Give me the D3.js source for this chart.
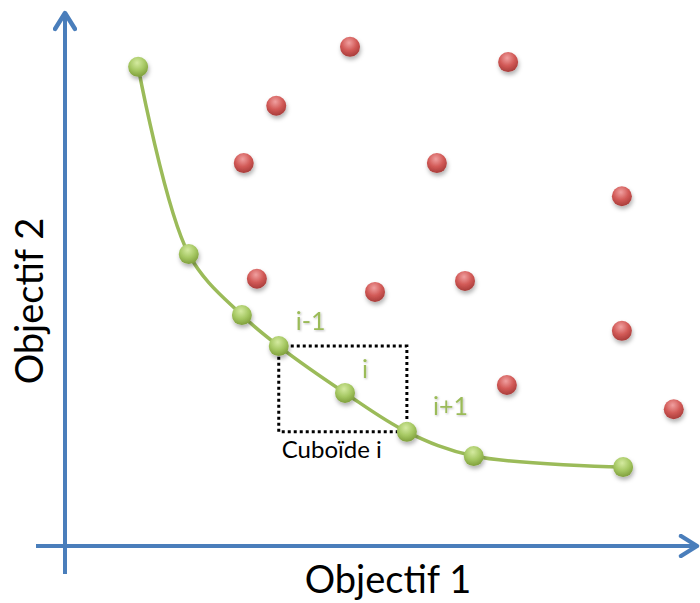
<!DOCTYPE html>
<html>
<head>
<meta charset="utf-8">
<script src="https://cdn.jsdelivr.net/npm/d3@7"></script>
<style>
  body { margin: 0; background: #fff; }
  text { font-family: Lato, "Open Sans", sans-serif; }
</style>
</head>
<body>
<div id="chart"></div>
<script>
// front points (Objectif 1, Objectif 2), arbitrary units 0..100
const frontX = [11.7, 19.8, 28.3, 34.2, 44.8, 54.7, 65.4, 89.3];
const frontY = [91.1, 55.5, 43.9, 38.0, 29.1, 21.7, 17.1, 15.0];
// dominated points
const otherX = [45.6, 70.9, 33.8, 28.6, 59.5, 89.1, 30.7, 49.6, 64.0, 89.1, 70.7, 97.4];
const otherY = [94.9, 92.0, 83.7, 72.8, 72.8, 66.5, 50.8, 48.3, 50.4, 40.9, 30.6, 26.0];
const pointLabels = ["i-1", "i", "i+1"];
const cuboidLabel = "Cuboïde i";
const xTitle = "Objectif 1";
const yTitle = "Objectif 2";

const width = 700, height = 603;
const axisColor = "#4a7ebb";
const green = "#9bbb59";

const svg = d3.select("#chart").append("svg")
    .attr("width", width)
    .attr("height", height);

const x = d3.scaleLinear().domain([0, 100]).range([65, 690]);
const y = d3.scaleLinear().domain([0, 100]).range([546, 20]);

const defs = svg.append("defs");

function ballGradient(id, light, mid, dark) {
    const g = defs.append("radialGradient")
        .attr("id", id)
        .attr("cx", "45%").attr("cy", "30%").attr("r", "70%");
    g.append("stop").attr("offset", "0%").attr("stop-color", light);
    g.append("stop").attr("offset", "55%").attr("stop-color", mid);
    g.append("stop").attr("offset", "100%").attr("stop-color", dark);
}
ballGradient("gGreen", "#d4eaa0", "#a6c863", "#7f9f3c");
ballGradient("gRed", "#f0a0a0", "#d25a57", "#a83c3a");

const shadow = defs.append("filter").attr("id", "shadow")
    .attr("x", "-50%").attr("y", "-50%").attr("width", "200%").attr("height", "200%");
shadow.append("feDropShadow")
    .attr("dx", 1).attr("dy", 3).attr("stdDeviation", 2)
    .attr("flood-color", "#000").attr("flood-opacity", 0.3);

const txtShadow = defs.append("filter").attr("id", "tshadow")
    .attr("x", "-20%").attr("y", "-20%").attr("width", "140%").attr("height", "140%");
txtShadow.append("feDropShadow")
    .attr("dx", 1).attr("dy", 1).attr("stdDeviation", 1)
    .attr("flood-color", "#000").attr("flood-opacity", 0.25);

// open arrowhead
defs.append("marker")
    .attr("id", "arrow")
    .attr("viewBox", "0 0 12 12")
    .attr("refX", 10).attr("refY", 6)
    .attr("markerWidth", 24).attr("markerHeight", 24)
    .attr("markerUnits", "userSpaceOnUse")
    .attr("orient", "auto")
  .append("path")
    .attr("d", "M2,1 L10,6 L2,11")
    .attr("fill", "none")
    .attr("stroke", axisColor)
    .attr("stroke-width", 2.2)
    .attr("stroke-linecap", "round")
    .attr("stroke-linejoin", "round");

// axes
svg.append("line")
    .attr("x1", 65).attr("y1", 574)
    .attr("x2", 65).attr("y2", 13)
    .attr("stroke", axisColor).attr("stroke-width", 4)
    .attr("marker-end", "url(#arrow)");
svg.append("line")
    .attr("x1", 36).attr("y1", 546)
    .attr("x2", 697).attr("y2", 546)
    .attr("stroke", axisColor).attr("stroke-width", 4)
    .attr("marker-end", "url(#arrow)");

svg.append("text")
    .attr("x", 388).attr("y", 593)
    .attr("text-anchor", "middle")
    .attr("font-size", 38)
    .attr("fill", "#000")
    .text(xTitle);
svg.append("text")
    .attr("transform", "translate(43,301) rotate(-90)")
    .attr("text-anchor", "middle")
    .attr("font-size", 38)
    .attr("fill", "#000")
    .text(yTitle);

const front = frontX.map((v, i) => ({ x: v, y: frontY[i] }));
const others = otherX.map((v, i) => ({ x: v, y: otherY[i] }));

// front curve
svg.append("path")
    .datum(front)
    .attr("d", d3.line().x(d => x(d.x)).y(d => y(d.y)).curve(d3.curveCatmullRom.alpha(0.5)))
    .attr("fill", "none")
    .attr("stroke", green)
    .attr("stroke-width", 3.5);

// cuboid between i-1 and i+1
const a = front[3], b = front[5];
svg.append("rect")
    .attr("x", x(a.x)).attr("y", y(a.y))
    .attr("width", x(b.x) - x(a.x))
    .attr("height", y(b.y) - y(a.y))
    .attr("fill", "none")
    .attr("stroke", "#000")
    .attr("stroke-width", 3)
    .attr("stroke-dasharray", "3,3");

svg.append("text")
    .attr("x", x(a.x) + 3).attr("y", y(b.y) + 26)
    .attr("font-size", 24)
    .attr("fill", "#000")
    .text(cuboidLabel);

// balls
svg.append("g").selectAll("circle")
    .data(others)
    .join("circle")
    .attr("cx", d => x(d.x)).attr("cy", d => y(d.y))
    .attr("r", 10)
    .attr("fill", "url(#gRed)")
    .attr("filter", "url(#shadow)");

svg.append("g").selectAll("circle")
    .data(front)
    .join("circle")
    .attr("cx", d => x(d.x)).attr("cy", d => y(d.y))
    .attr("r", 10)
    .attr("fill", "url(#gGreen)")
    .attr("filter", "url(#shadow)");

// i-1, i, i+1 labels
const labelOffsets = [[17, -16], [17, -15], [26, -17]];
svg.append("g").selectAll("text")
    .data(pointLabels)
    .join("text")
    .attr("x", (d, k) => x(front[3 + k].x) + labelOffsets[k][0])
    .attr("y", (d, k) => y(front[3 + k].y) + labelOffsets[k][1])
    .attr("font-size", 25)
    .attr("fill", green)
    .attr("filter", "url(#tshadow)")
    .text(d => d);
</script>
</body>
</html>
